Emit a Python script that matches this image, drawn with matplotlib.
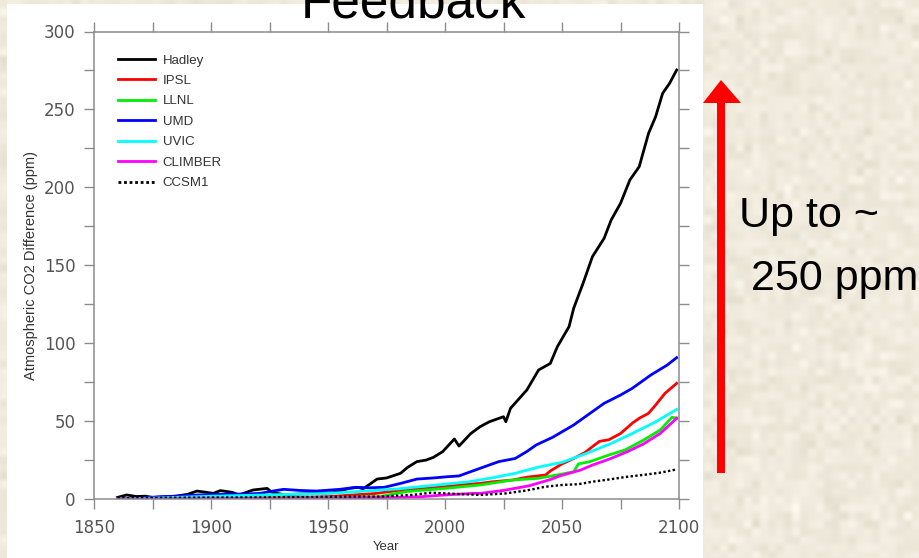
import numpy as np
import matplotlib
matplotlib.use("Agg")
import matplotlib.pyplot as plt
from matplotlib import font_manager
from matplotlib.patches import Rectangle, Polygon

# ---- model output: atmospheric CO2 difference (ppm) vs year ----
hadley_years = [1860, 1864, 1868, 1872, 1876, 1880, 1885, 1890, 1894, 1898, 1901, 1904,
                1909, 1912, 1918, 1924, 1926, 1931, 1938, 1945, 1952, 1959, 1963, 1965,
                1971, 1975, 1981, 1984, 1988, 1992, 1995, 1999, 2004, 2006, 2011, 2015,
                2019, 2025, 2026, 2028, 2035, 2040, 2045, 2048, 2053, 2055, 2059, 2063,
                2068, 2071, 2075, 2079, 2083, 2087, 2090, 2093, 2096, 2099]
hadley_ppm = [1.0, 2.6, 1.6, 1.8, 0.8, 1.2, 1.8, 3.0, 5.1, 4.3, 3.6, 5.4,
              4.3, 2.6, 5.8, 6.8, 4.3, 2.8, 3.2, 3.6, 4.0, 6.8, 7.5, 6.5,
              12.8, 13.5, 16.5, 20.3, 24.0, 25.0, 26.7, 30.4, 38.5, 34.0, 42.0, 46.4,
              49.6, 52.8, 49.6, 58.2, 70.0, 82.8, 87.0, 97.7, 110.6, 122.4, 138.4, 155.5,
              167.3, 179.0, 189.7, 204.7, 213.3, 234.7, 245.3, 260.3, 266.8, 275.3]

ipsl_years = [1860, 1900, 1930, 1950, 1960, 1970, 1980, 1990, 2000, 2010, 2015, 2020,
              2029, 2035, 2043, 2045, 2050, 2055, 2060, 2063, 2066, 2070, 2075, 2080,
              2083, 2087, 2090, 2094, 2099]
ipsl_ppm = [0.0, 0.5, 0.8, 1.5, 2.5, 3.5, 5.5, 6.5, 7.9, 9.5, 10.0, 11.0,
            12.2, 14.0, 15.4, 18.0, 22.5, 26.0, 30.0, 33.6, 37.0, 38.0, 42.0, 48.6,
            51.8, 55.0, 60.3, 67.8, 74.2]

llnl_years = [1860, 1900, 1950, 1972, 1983, 2000, 2015, 2029, 2040, 2050, 2055, 2057,
              2062, 2070, 2077, 2085, 2092, 2097, 2099]
llnl_ppm = [0.0, 0.5, 1.0, 1.5, 4.7, 6.8, 9.0, 12.2, 13.3, 16.0, 17.5, 22.5,
            24.0, 28.2, 31.5, 37.9, 44.3, 52.4, 52.0]

umd_years = [1860, 1870, 1878, 1885, 1895, 1905, 1915, 1921, 1926, 1931, 1938, 1945,
             1955, 1962, 1968, 1974, 1981, 1988, 1995, 2001, 2006, 2010, 2015, 2023,
             2030, 2035, 2039, 2046, 2055, 2062, 2068, 2075, 2080, 2088, 2095, 2099]
umd_ppm = [0.0, 0.5, 1.5, 1.8, 2.6, 3.0, 3.2, 3.6, 5.0, 6.2, 5.5, 5.1,
           6.2, 7.5, 7.2, 7.5, 10.0, 12.8, 13.5, 14.3, 14.8, 17.0, 19.7, 24.0,
           26.0, 30.5, 34.7, 39.6, 47.5, 55.0, 61.4, 66.7, 71.0, 79.6, 86.0, 90.7]

uvic_years = [1860, 1880, 1900, 1920, 1940, 1950, 1960, 1970, 1980, 1990, 2000, 2010,
              2020, 2030, 2040, 2050, 2060, 2070, 2080, 2090, 2099]
uvic_ppm = [0.0, 0.8, 1.8, 2.5, 3.2, 3.6, 4.5, 5.5, 6.5, 8.0, 9.5, 11.0,
            13.5, 16.5, 20.5, 23.5, 29.0, 35.0, 42.0, 49.5, 57.5]

climber_years = [1860, 1950, 1980, 1990, 2000, 2012, 2015, 2025, 2036, 2045, 2049, 2058,
                 2063, 2070, 2078, 2085, 2092, 2099]
climber_ppm = [0.0, 0.5, 1.0, 1.5, 2.6, 3.6, 3.6, 5.5, 8.5, 12.5, 14.8, 18.6,
               21.8, 25.5, 30.4, 35.5, 42.1, 51.8]

ccsm1_years = [1860, 1880, 1900, 1920, 1940, 1960, 1972, 1986, 1994, 2000, 2015, 2026,
               2035, 2043, 2050, 2057, 2063, 2070, 2078, 2085, 2092, 2099]
ccsm1_ppm = [0.5, 0.8, 1.0, 1.0, 1.2, 1.5, 1.5, 2.6, 4.0, 3.6, 2.6, 3.6,
             5.5, 7.9, 9.0, 9.5, 11.1, 12.5, 14.3, 15.5, 16.9, 19.0]

model_names = ["Hadley", "IPSL", "LLNL", "UMD", "UVIC", "CLIMBER", "CCSM1"]
model_years = [hadley_years, ipsl_years, llnl_years, umd_years, uvic_years,
               climber_years, ccsm1_years]
model_ppm = [hadley_ppm, ipsl_ppm, llnl_ppm, umd_ppm, uvic_ppm, climber_ppm, ccsm1_ppm]
model_colors = ["#000000", "#ff0000", "#00ee00", "#0000ff", "#00ffff", "#ff00ff", "#000000"]
model_styles = ["-", "-", "-", "-", "-", "-", (0, (1, 1))]
model_widths = [2.0, 2.0, 2.0, 2.0, 2.0, 2.0, 1.7]

x_ticks = [1850, 1900, 1950, 2000, 2050, 2100]
y_ticks = [0, 50, 100, 150, 200, 250, 300]

W, H = 920, 558
fig = plt.figure(figsize=(W / 100, H / 100), dpi=100)

# parchment slide background
rng = np.random.default_rng(11)
coarse = rng.normal(0.0, 1.0, (H // 8 + 2, W // 8 + 2))
tex = np.kron(coarse, np.ones((8, 8)))[:H, :W]
k = np.ones(5) / 5
tex = np.apply_along_axis(lambda r: np.convolve(r, k, mode="same"), 1, tex)
tex = np.apply_along_axis(lambda c: np.convolve(c, k, mode="same"), 0, tex)
base = np.array([239, 234, 220]) / 255.0
tint = np.array([4.0, 4.3, 5.5]) / 255.0
img = np.clip(base[None, None, :] + tex[:, :, None] * tint[None, None, :], 0, 1)
fig.figimage(img, xo=0, yo=0, origin="upper", zorder=0)

# white chart panel
fig.patches.append(Rectangle((7 / W, 0), 696 / W, 554 / H, transform=fig.transFigure,
                             facecolor="white", edgecolor="none", zorder=0.5))

ax = fig.add_axes([94 / W, (H - 499) / H, 585 / W, 467.5 / H], zorder=1)
ax.set_facecolor("white")

for name, yrs, vals, col, ls, lw in zip(model_names, model_years, model_ppm,
                                        model_colors, model_styles, model_widths):
    ax.plot(yrs, vals, color=col, linestyle=ls, linewidth=lw, label=name,
            solid_joinstyle="round")

ax.set_xlim(1850, 2100)
ax.set_ylim(0, 300)
ax.set_xticks(x_ticks)
ax.set_yticks(y_ticks)
ax.set_xticks(np.arange(1850, 2101, 25), minor=True)
ax.set_yticks(np.arange(0, 301, 25), minor=True)

grey = "#8c8c8c"
for sp in ax.spines.values():
    sp.set_color(grey)
    sp.set_linewidth(1.1)
ax.tick_params(which="both", direction="out", length=7.2, width=1.0, color=grey,
               top=True, right=True)
ax.tick_params(axis="x", which="major", labelsize=12, labelcolor="#555555", pad=7.5)
ax.tick_params(axis="y", which="major", labelsize=12, labelcolor="#555555", pad=6.0)
for lab in ax.get_xticklabels() + ax.get_yticklabels():
    lab.set_family("DejaVu Sans")

ax.set_xlabel("Year", fontsize=9.5, color="#333333", family="Liberation Sans")
ax.xaxis.set_label_coords(0.5, -0.09)
ax.set_ylabel("Atmospheric CO2 Difference (ppm)", fontsize=10.5, color="#333333",
              family="Liberation Sans")
ax.yaxis.set_label_coords(-0.096, 0.5)

leg = ax.legend(loc="upper left", bbox_to_anchor=(0.041, 0.951), frameon=False,
                borderpad=0, borderaxespad=0, handlelength=2.8, handletextpad=0.6,
                labelspacing=0.62, prop={"family": "Liberation Sans", "size": 9.5})
for t in leg.get_texts():
    t.set_color("#333333")
for h in leg.get_lines():
    h.set_linewidth(2.0)

# slide annotations drawn in pixel space
ov = fig.add_axes([0, 0, 1, 1], zorder=2)
ov.set_xlim(0, W)
ov.set_ylim(H, 0)
ov.axis("off")
ov.patch.set_alpha(0)

ov.text(413.5, 17, "Feedback", fontsize=37, family="Liberation Sans",
        ha="center", va="baseline", color="black")

arrow = Polygon([(717, 473), (725, 473), (725, 103), (741, 103), (721, 80),
                 (703, 103), (717, 103)], closed=True, facecolor="#ff0000",
                edgecolor="none")
ov.add_patch(arrow)

available = {f.name for f in font_manager.fontManager.ttflist}
if "Liberation Sans Narrow" in available:
    call_family, call_size = "Liberation Sans Narrow", 37
else:
    call_family, call_size = "Liberation Sans", 31
ov.text(739, 227, "Up to ~", fontsize=call_size, family=call_family,
        ha="left", va="baseline", color="black")
ov.text(739, 290, " 250 ppm", fontsize=call_size, family=call_family,
        ha="left", va="baseline", color="black")

fig.savefig("out.png", dpi=100)
